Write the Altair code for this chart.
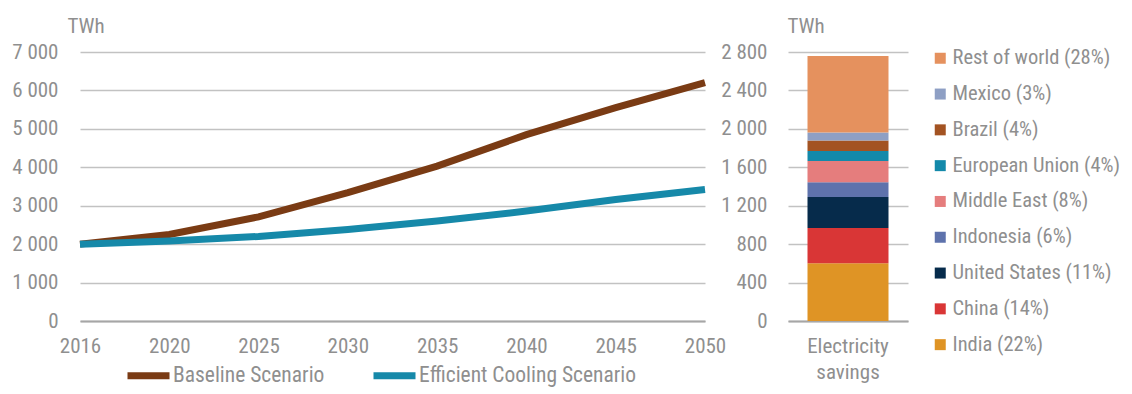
import altair as alt
import pandas as pd

years = ["2016", "2020", "2025", "2030", "2035", "2040", "2045", "2050"]
baseline = [2000, 2250, 2710, 3340, 4030, 4850, 5550, 6200]
efficient = [2000, 2080, 2200, 2380, 2600, 2860, 3160, 3420]
scenarios = ["Baseline Scenario", "Efficient Cooling Scenario"]
scenario_colors = ["#7A3B14", "#1689A9"]

# stacked bar, bottom to top
regions = ["India (22%)", "China (14%)", "United States (11%)", "Indonesia (6%)",
           "Middle East (8%)", "European Union (4%)", "Brazil (4%)", "Mexico (3%)",
           "Rest of world (28%)"]
savings = [600, 369, 321, 155, 220, 104, 111, 82, 797]
region_colors = ["#DF9425", "#D93636", "#062B4B", "#5E72AC", "#E57D7D",
                 "#1389AA", "#A35322", "#8E9FC4", "#E5915E"]
bar_category = "Electricity savings"

FONT = "Liberation Sans Narrow, Arial Narrow, Roboto Condensed, Liberation Sans, sans-serif"
TXT = "#8F8F8F"
GRID = "#C2C2C2"
ZERO = "#A6A6A6"

rows = []
for i, y in enumerate(years):
    rows.append({"year": y, "scenario": scenarios[0], "value": baseline[i]})
    rows.append({"year": y, "scenario": scenarios[1], "value": efficient[i]})
df_line = pd.DataFrame(rows)

df_bar = pd.DataFrame({
    "cat": [bar_category] * len(regions),
    "region": regions,
    "value": savings,
    "idx": list(range(len(regions))),
})

label_expr = "replace(format(datum.value, ','), ',', ' ')"

line = alt.Chart(df_line).mark_line(strokeWidth=7).encode(
    x=alt.X("year:O", sort=years,
            scale=alt.Scale(type="point", padding=0),
            axis=alt.Axis(title=None, labelAngle=0, ticks=False, grid=False,
                          domain=True, domainColor=ZERO, domainWidth=2,
                          labelPadding=14)),
    y=alt.Y("value:Q", scale=alt.Scale(domain=[0, 7000], nice=False),
            axis=alt.Axis(values=list(range(0, 7001, 1000)), labelExpr=label_expr,
                          ticks=False, domain=False, labelPadding=22,
                          gridColor=GRID, gridWidth=1.5,
                          title="TWh", titleAngle=0, titleAlign="left",
                          titleBaseline="alphabetic", titleX=-13, titleY=-20)),
    color=alt.Color("scenario:N",
                    scale=alt.Scale(domain=scenarios, range=scenario_colors),
                    legend=alt.Legend(orient="none", legendX=44, legendY=299,
                                      direction="horizontal", title=None,
                                      symbolType="stroke", symbolSize=1764,
                                      symbolStrokeWidth=7, labelOffset=0,
                                      labelFontSize=21.5,
                                      columnPadding=34, padding=0)),
).properties(width=625, height=269)

bar = alt.Chart(df_bar).mark_bar(size=81).encode(
    x=alt.X("cat:N",
            axis=alt.Axis(title=None, labelAngle=0, ticks=False, grid=False,
                          domain=True, domainColor=ZERO, domainWidth=2,
                          labelPadding=14, labelLineHeight=26,
                          labelExpr="split(datum.value, ' ')")),
    y=alt.Y("value:Q", stack="zero", scale=alt.Scale(domain=[0, 2800], nice=False),
            axis=alt.Axis(values=list(range(0, 2801, 400)), labelExpr=label_expr,
                          ticks=False, domain=False, labelPadding=21,
                          gridColor=GRID, gridWidth=1.5,
                          title="TWh", titleAngle=0, titleAlign="left",
                          titleBaseline="alphabetic", titleX=-1, titleY=-20)),
    color=alt.Color("region:N",
                    scale=alt.Scale(domain=regions[::-1], range=region_colors[::-1]),
                    legend=alt.Legend(orient="none", legendX=142, legendY=-4,
                                      title=None, symbolType="square",
                                      symbolSize=121, symbolStrokeWidth=0,
                                      labelOffset=2, labelFontSize=20.5,
                                      rowPadding=14.8, padding=0)),
    order=alt.Order("idx:Q", sort="ascending"),
).properties(width=120, height=269)

chart = alt.hconcat(line, bar, spacing=83, bounds="flush").resolve_scale(
    x="independent", y="independent", color="independent"
).resolve_legend(color="independent").properties(
    padding={"left": 3, "top": 7, "right": 0, "bottom": 0}
).configure_view(stroke=None).configure_axis(
    labelFont=FONT, labelFontSize=21, labelColor=TXT,
    titleFont=FONT, titleFontSize=21, titleColor=TXT, titleFontWeight="normal",
).configure_legend(
    labelFont=FONT, labelFontSize=22, labelColor=TXT, labelLimit=400,
)

chart.save("out.html", embed_options={"renderer": "svg", "actions": False})
